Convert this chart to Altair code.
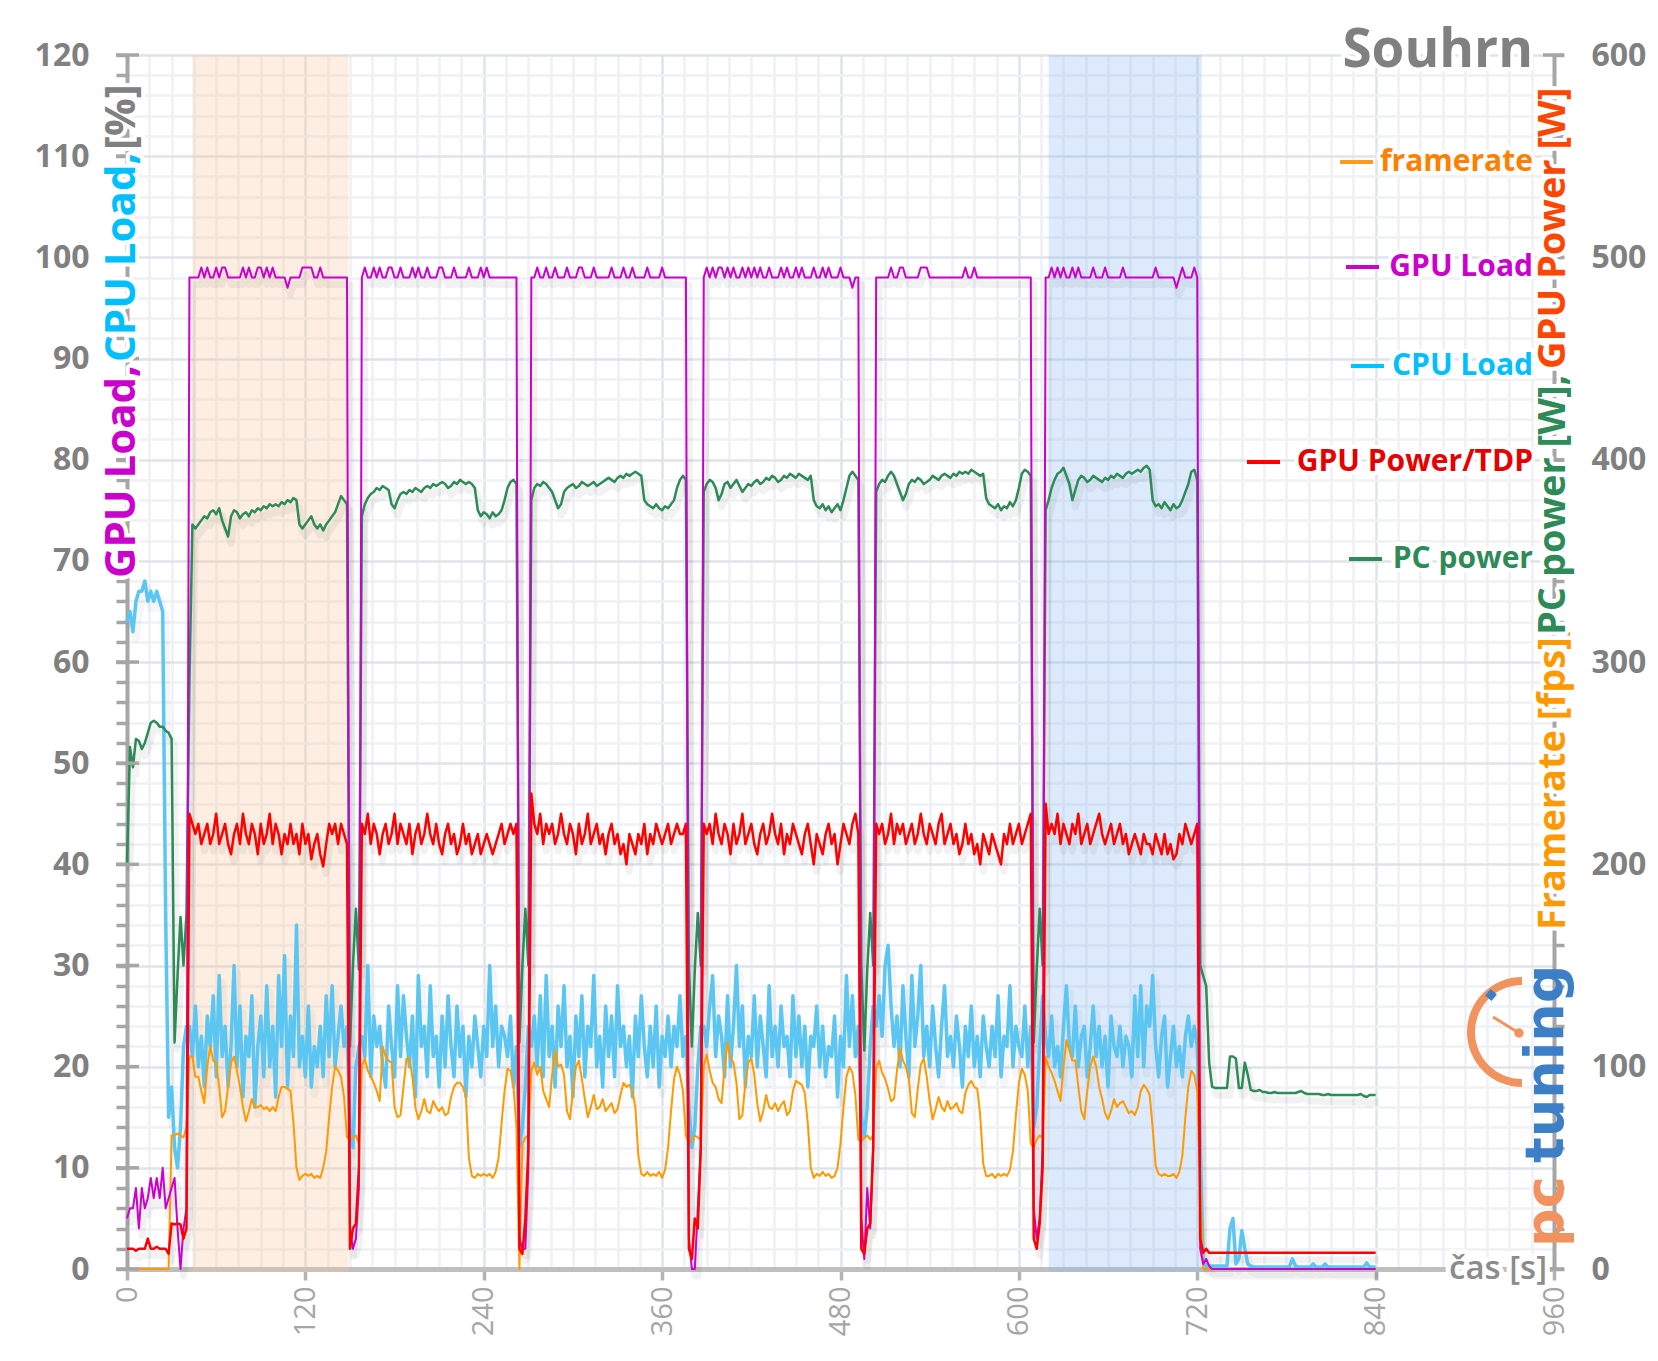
import altair as alt
import pandas as pd

# ---------------- data (sampled every 2 s) ----------------
STEP = 2

# framerate [fps] (right axis)
fps = (
    [0,0,0,0,0,0,0,0,0,0,0,0,0,0,0, 66,66,67,66,65, 70]
    + [105,105,95,95,88,82,100,110,103,102, 90,75,78,90,102,105,98,90,80,73,
       78,84,80,80,81,79,80,78,80,78, 85,90,90,89,88,72,50,44,46,47,
       46,47,45,46,45,50,58,75,90,100, 98,95,85,65]
    + [64,65,66,62]
    + [100,104,98,95,92,88,83,110,105,103, 102,80,75,76,90,104,104,95,80,74,
       78,84,78,77,83,80,78,80,76,77, 85,90,92,92,90,85,55,46,45,47,
       46,47,46,47,45,48,55,72,88,99, 98,90,70]
    + [0,62,65,66]
    + [98,102,96,100,88,84,80,96,108,100, 101,96,78,74,88,100,103,94,84,75,
       80,86,79,80,84,78,80,82,77,79, 86,92,90,91,88,80,56,47,46,48,
       46,47,46,48,45,49,60,78,94,100, 96,88,66]
    + [62,64,66,65,64]
    + [100,106,98,92,90,84,82,100,112,104, 102,92,74,76,92,102,104,96,82,73,
       78,86,80,79,82,78,81,83,76,78, 88,93,92,91,87,72,50,45,47,46,
       48,46,47,45,46,50,62,80,95,100, 97,86,64]
    + [63,65,66,64,66]
    + [99,103,97,94,89,83,84,98,109,103, 100,94,77,75,89,101,104,95,83,74,
       79,85,80,78,83,79,80,82,78,77, 87,91,93,90,89,76,52,46,46,47,
       45,47,46,47,46,49,58,76,92,99, 96,88,62]
    + [60,64,66,65]
    + [105,100,97,93,88,83,100,113,108,103, 103,90,78,74,88,100,105,100,90,84,
       77,74,78,84,80,82,83,80,77,78, 76,80,88,91,89,86,70,51,47,46,
       47,46,46,47,45,48,56,75,90,98, 96,88]
    + [40,0,0,0,0,0,0,0,0,0, 0,0,0,0,0,0,0,0,0,0, 0,0,0,0,0,0,0,0,0,0,
       0,0,0,0,0,0,0,0,0,0, 0,0,0,0,0,0,0,0,0,0, 0,0,0,0,0,0,0,0,0,0]
)

# GPU load [%] (left axis)
gpu_load = (
    [5,6,6,8,4,8,6,7,9,7, 9,7,10,6,7,8,9,4,0,4, 6]
    + [98,98,98,98,99,98,99,98,98,99, 98,99,99,98,98,98,98,98,99,98,
       99,98,98,99,99,98,99,98,99,98, 98,98,98,97,98,98,98,98,99,99,
       99,99,98,98,99,98,98,98,98,98, 98,98,98,98]
    + [4,2,3,8]
    + [98,99,98,98,99,98,99,98,98,99, 99,98,98,99,98,98,98,99,98,99,
       98,98,99,98,98,98,99,99,98,98, 98,99,98,98,98,98,99,98,98,98,
       99,98,99,98,98,98,98,98,98,98, 98,98,98]
    + [3,2,2,10]
    + [98,98,99,98,98,99,98,98,99,98, 98,98,99,98,98,98,99,99,98,98,
       98,99,98,98,98,98,98,99,98,98, 98,99,98,98,99,98,98,98,98,99,
       98,98,98,98,99,98,98,98,98,98, 98,98,98]
    + [3,0,0,6,12]
    + [98,99,98,99,98,99,99,98,99,98, 99,98,98,99,98,99,98,99,98,99,
       98,98,99,98,98,98,99,98,99,98, 98,99,98,99,98,98,98,99,98,98,
       99,98,99,98,98,98,99,98,98,98, 97,98,98]
    + [5,1,8,4,12]
    + [98,98,98,98,98,99,98,98,99,99, 98,98,98,98,98,99,99,99,98,98,
       98,98,98,98,98,98,98,98,98,98, 99,98,98,99,98,98,98,98,98,98,
       98,98,98,98,98,98,98,98,98,98, 98,98,98]
    + [6,3,5,12]
    + [98,98,99,98,99,98,99,98,98,99, 98,99,98,98,98,98,99,98,98,98,
       99,98,98,98,98,98,99,98,98,98, 98,98,98,98,98,98,98,99,98,98,
       98,98,98,98,97,98,99,98,98,98, 99,98]
    + [2,0.5,1,0.3,0,0,0,0,0,0, 0,0,0,0,0,0,0,0,0,0, 0,0,0,0,0,0,0,0,0,0,
       0,0,0,0,0,0,0,0,0,0, 0,0,0,0,0,0,0,0,0,0, 0,0,0,0,0,0,0,0,0,0]
)

# CPU load [%] (left axis)
cpu_load = (
    [64,65,63,66,67,67,68,66,67,66, 67,66,65,35,15,18,12,10,14,22, 24]
    + [24,21,26,20,23,18,25,22,27,19, 29,21,24,18,22,30,20,26,17,23,
       21,27,16,22,25,19,28,20,24,17, 29,22,31,18,25,21,34,20,23,19,
       26,18,22,20,24,19,27,21,28,20, 23,26,22,24]
    + [14,12,20,22]
    + [23,21,30,19,25,22,24,20,18,26, 22,19,28,21,27,23,20,25,17,29,
       22,24,19,28,21,23,18,25,20,27, 22,19,26,21,24,17,23,20,25,22,
       19,24,21,30,22,26,20,24,23,21, 25,18,22]
    + [12,14,18,24]
    + [22,25,20,27,19,29,21,24,18,26, 22,28,20,23,17,25,21,27,19,24,
       22,29,20,23,18,26,21,25,19,28, 22,24,20,23,17,25,21,27,22,19,
       24,20,26,18,23,21,25,20,24,22, 27,21,23]
    + [16,12,14,20,24]
    + [24,22,26,29,21,25,23,19,27,20, 24,30,22,26,18,23,21,27,20,25,
       22,19,28,21,24,20,26,22,23,19, 27,21,25,20,24,18,23,22,26,20,
       24,19,22,21,25,17,23,20,29,22, 27,21,24]
    + [15,13,16,22,26]
    + [24,27,23,30,32,26,22,25,20,28, 23,19,29,22,25,30,21,24,20,26,
       22,19,24,28,21,23,20,25,22,18, 24,21,26,20,23,19,25,22,20,24,
       21,27,19,23,22,28,20,24,22,21, 26,20,24]
    + [14,16,22,27]
    + [23,21,25,20,22,19,24,28,22,21, 26,20,23,24,19,22,26,21,24,20,
       23,18,25,22,21,24,20,23,22,19, 27,21,28,20,26,24,29,22,19,23,
       25,18,21,24,20,22,19,23,25,22, 24,22]
    + [12,1,0.3,0.3,0.3,0.3,0.3,0.3,0.3,0.3, 4,5,0.5,1,3.8,2,0.5,0.3,0.2,0.2,
       0.2,0.2,0.2,0.2,0.2,0.2,0.2,0.2,0.2,0.2, 0.2,1,0.3,0.2,0.2,0.2,0.2,0.2,0.5,0.2,
       0.2,0.2,0.5,0.2,0.2,0.2,0.2,0.2,0.2,0.2, 0.2,0.2,0.2,0.2,0.2,0.2,0.6,0.2,0.2,0.2]
)

# GPU power / TDP [%] (left axis)
gpu_power = (
    [2,2,2,1.8,2,2,2,3,2,2, 2.2,2,2,2,1.5,4.5,4.4,4.5,4.4,3, 4]
    + [45,44,43,44,42,43,44,42,43,45, 42,43,44,42,41,43,44,42,45,43,
       42,44,43,41,44,42,43,45,42,44, 43,41,43,42,44,42,43,41,44,42,
       43,40.5,42,43,41,39.8,42,44,43,44, 42,44,43,42]
    + [2,4,4.5,10]
    + [44,43,45,42,44,43,41,43,44,42, 43,45,42,44,43,42,44,41,43,44,
       42,43,45,43,42,44,42,41,43,44, 42,43,41,42,44,42,43,41,42,43,
       41,42,43,42,41,42,43,44,42,43, 44,43,44]
    + [2,1.5,5,12]
    + [47,44,43,45,42,44,43,44,42,43, 45,43,42,44,43,41,44,42,43,45,
       42,43,44,42,43,41,43,44,42,43, 41,42,40,43,42,41,43,42,44,41,
       43,42,44,43,42,43,44,42,43,44, 43,43,44]
    + [2,1,5,4,12]
    + [44,43,44,42,45,43,42,44,43,41, 44,42,43,45,42,43,44,42,41,43,
       44,42,43,45,43,42,44,41,43,42, 44,43,42,41,43,44,42,40,43,42,
       41,43,44,42,43,40,42,44,43,42, 44,45,43]
    + [2,1.5,4,4.5,12]
    + [44,43,44,42,43,45,42,44,43,44, 42,43,44,42,43,45,43,42,44,43,
       42,44,45,42,43,44,42,43,41,42, 44,42,43,41,42,40,43,42,41,43,
       42,41,40,43,42,44,42,43,44,42, 43,44,45]
    + [3,2,4.5,10]
    + [46,43,44,43,45,42,44,43,42,44, 43,45,42,43,44,42,43,44,45,43,
       42,43,44,42,43,44,42,43,41,42, 43,42,41,43,42,42,41,43,42,41,
       43,41,42,40.5,41,43,42,44,43,42, 43,44]
    + [3,1.6,2,1.6,1.6,1.6,1.6,1.6,1.6,1.6, 1.6,1.6,1.6,1.6,1.6,1.6,1.6,1.6,1.6,1.6,
       1.6,1.6,1.6,1.6,1.6,1.6,1.6,1.6,1.6,1.6, 1.6,1.6,1.6,1.6,1.6,1.6,1.6,1.6,1.6,1.6,
       1.6,1.6,1.6,1.6,1.6,1.6,1.6,1.6,1.6,1.6, 1.6,1.6,1.6,1.6,1.6,1.6,1.6,1.6,1.6,1.6]
)

# PC power [W] (right axis)
pc_power = (
    [200,258,248,262,261,257,260,265,270,271, 270,268,268,266,265,262,112,145,174,150, 175]
    + [290,368,366,368,370,372,371,374,375,373, 376,370,366,362,372,375,374,371,373,374,
       372,375,374,376,375,377,376,378,377,378, 377,379,378,380,379,381,380,368,366,368,
       370,372,368,366,368,365,368,370,372,374, 378,382,380,378]
    + [110,150,178,148]
    + [372,378,381,383,384,386,385,387,386,385, 378,376,380,383,384,383,385,384,386,385,
       384,386,387,386,388,387,388,389,388,386, 387,389,388,390,389,388,389,388,386,
       375,372,374,373,371,374,372,373,375, 380,386,389,390,388]
    + [112,150,178,150]
    + [380,386,388,387,389,388,386,384,380,376, 378,384,386,387,388,386,387,389,388,387,
       388,389,387,388,389,390,391,390,389,391, 392,391,393,392,393,394,393,392,
       380,378,377,376,378,376,375,377,376,378, 380,386,390,392,390]
    + [150,110,148,176,150]
    + [384,388,390,389,386,380,383,388,389,386, 388,390,387,384,386,388,387,389,390,388,
       389,391,390,392,391,389,390,392,391,393, 392,391,393,392,391,390,392,380,
       377,376,378,375,377,374,376,378,375,380, 386,392,394,392,390]
    + [150,108,148,176,150]
    + [384,388,390,389,392,394,392,388,384,380, 383,388,390,389,391,390,388,389,390,392,
       391,390,392,393,392,391,393,392,394,393, 394,393,395,394,393,392,393,381,
       378,377,376,378,375,377,376,379,377,380, 386,393,395,394,392]
    + [112,148,178,150]
    + [375,380,386,390,393,394,396,392,388,380, 385,390,392,391,389,390,392,391,390,389,
       391,390,392,391,393,392,391,393,394,393, 394,395,394,396,397,395,
       380,377,378,376,379,377,375,378,376,377, 380,384,388,394,395,390]
    + [150,145,140,102,90,89.5,89.5,89.5,89.5,89.5, 105,105,104,89.5,89.5,102,96,88.5,88,88,
       88.5,87.5,87.5,87,87,87.5,87,87,87,87, 87,87,87,87.5,88,87,86.5,86.5,86.5,86.5,
       86.5,86,86,86.5,86,86,86,86,86,86, 86,86,86,86,86.5,85.5,85,86,86,86]
)

# highlighted intervals [s]
band_start = [44, 620]
band_end = [149, 723]
band_color = ["#f8c89a", "#8ab9f2"]

legend_labels = ["framerate", "GPU Load", "CPU Load", "GPU Power/TDP", "PC power"]
legend_text_colors = ["#ff7f00", "#cc00cc", "#00bfff", "#e60000", "#2e8b57"]
legend_dash_colors = ["#ff9a1a", "#cc00cc", "#00c4ff", "#ff0000", "#2e8b57"]

# ---------------- layout / style ----------------
W, H = 1427, 1214
FONT = "Open Sans"
X_DOM = [0, 960]
L_DOM = [0, 120]
R_DOM = [0, 600]

x_scale = alt.Scale(domain=X_DOM, nice=False, zero=False)
l_scale = alt.Scale(domain=L_DOM, nice=False)
r_scale = alt.Scale(domain=R_DOM, nice=False)

x_axis = alt.Axis(
    values=list(range(0, 961, 15)), title=None, grid=True,
    gridColor={"condition": {"test": "datum.value % 120 === 0", "value": "#dfe3ea"}, "value": "#eff1f5"},
    gridWidth=2.5, domainColor="#bfbfbf", domainWidth=5,
    tickColor="#b3b3b3", tickWidth=3.5, tickSize=11,
    tickOpacity={"condition": {"test": "datum.value % 120 === 0", "value": 1}, "value": 0},
    labelExpr="datum.value % 120 === 0 ? datum.label : ''",
    labelAngle=270, labelFont=FONT, labelFontSize=29, labelColor="#a6a6a6",
    labelPadding=6, labelFlush=False, labelOverlap=False,
)
left_axis = alt.Axis(
    values=list(range(0, 121, 2)), orient="left", title=None, grid=True,
    gridColor={"condition": {"test": "datum.value % 10 === 0", "value": "#dfe3ea"}, "value": "#eff1f5"},
    gridWidth=2.5, domainColor="#a6a6a6", domainWidth=4,
    tickColor="#a6a6a6", tickWidth=3.5, tickSize=11,
    labelExpr="datum.value % 10 === 0 ? datum.label : ''",
    labelFont=FONT, labelFontSize=32, labelFontWeight="bold", labelColor="#808080",
    labelPadding=27, labelFlush=False, labelOverlap=False,
)
right_axis = alt.Axis(
    values=list(range(0, 601, 20)), orient="right", title=None, grid=False,
    domainColor="#a6a6a6", domainWidth=4,
    tickColor="#a6a6a6", tickWidth=3.5, tickSize=10,
    labelExpr="datum.value % 100 === 0 ? datum.label : ''",
    labelFont=FONT, labelFontSize=32, labelFontWeight="bold", labelColor="#808080",
    labelPadding=27, labelFlush=False, labelOverlap=False,
)

one = pd.DataFrame({"k": [0]})


def frame(vals):
    return pd.DataFrame({"t": [i * STEP for i in range(len(vals))], "v": vals})


def series(vals, color, width, scale, axis=None):
    return alt.Chart(frame(vals)).mark_line(color=color, strokeWidth=width, strokeJoin="round").encode(
        x=alt.X("t:Q", scale=x_scale, axis=x_axis),
        y=alt.Y("v:Q", scale=scale, axis=axis),
    )


def shadow(vals, scale, width=7, opacity=0.05):
    return alt.Chart(frame(vals)).mark_line(
        color="#000000", strokeWidth=width, opacity=opacity, strokeJoin="round",
        xOffset=3, yOffset=7).encode(
        x=alt.X("t:Q", scale=x_scale, axis=x_axis),
        y=alt.Y("v:Q", scale=scale, axis=None),
    )


def text(txt, x, y, color, size, weight="bold", angle=0, align="left", baseline="middle",
         halo=0, font=FONT):
    layers = []
    if halo:
        layers.append(alt.Chart(one).mark_text(
            text=txt, font=font, fontSize=size, fontWeight=weight, angle=angle, align=align,
            baseline=baseline, color="white", stroke="white", strokeWidth=halo, strokeJoin="round",
        ).encode(x=alt.value(x), y=alt.value(y)))
    layers.append(alt.Chart(one).mark_text(
        text=txt, font=font, fontSize=size, fontWeight=weight, angle=angle, align=align,
        baseline=baseline, color=color,
    ).encode(x=alt.value(x), y=alt.value(y)))
    return layers


bands = alt.Chart(pd.DataFrame({"t0": band_start, "t1": band_end, "c": band_color})).mark_rect(
    opacity=0.3).encode(
    x=alt.X("t0:Q", scale=x_scale, axis=x_axis), x2="t1:Q",
    y=alt.value(0), y2=alt.value(H + 3),
    color=alt.Color("c:N", scale=None),
)

shadows = [
    shadow(cpu_load, l_scale, 8, 0.035),
    shadow(pc_power, r_scale),
    shadow(gpu_load, l_scale),
    shadow(gpu_power, l_scale),
]

cpu_l = series(cpu_load, "#5cc6f2", 3.5, l_scale, left_axis)
fps_l = series(fps, "#ff9900", 2, r_scale)
pc_l = series(pc_power, "#2e8b57", 2.5, r_scale, right_axis)
gl_l = series(gpu_load, "#cc00cc", 2, l_scale)
gp_l = series(gpu_power, "#ff0000", 2.5, l_scale)

left_major = alt.Chart(pd.DataFrame({"v": list(range(0, 121, 10))})).mark_rule(
    color="#a6a6a6", strokeWidth=3.5).encode(
    y=alt.Y("v:Q", scale=l_scale, axis=None), x=alt.value(-11), x2=alt.value(12))
right_major = alt.Chart(pd.DataFrame({"v": list(range(0, 601, 100))})).mark_rule(
    color="#a6a6a6", strokeWidth=3.5).encode(
    y=alt.Y("v:Q", scale=r_scale, axis=None), x=alt.value(W - 11), x2=alt.value(W + 10))

# logo (pctuning)
logo = [
    alt.Chart(one).mark_arc(color="#f0935e").encode(
        x=alt.value(1395), y=alt.value(977), theta=alt.value(3.1416), theta2=alt.value(6.2832),
        radius=alt.value(55), radius2=alt.value(47)),
    alt.Chart(one).mark_rule(color="#f0935e", strokeWidth=3).encode(
        x=alt.value(1366), y=alt.value(962), x2=alt.value(1392), y2=alt.value(978)),
    alt.Chart(one).mark_point(filled=True, color="#f0935e", size=90, opacity=1).encode(
        x=alt.value(1392), y=alt.value(978)),
    alt.Chart(one).mark_point(filled=True, shape="square", color="#3d7fc6", size=70, opacity=1,
                              angle=40).encode(x=alt.value(1364), y=alt.value(940)),
]
logo += text("tuning", 1420, 1108, "#3d7fc6", 54, angle=270, font="DejaVu Sans")
logo += text("pc", 1420, 1192, "#f0935e", 54, angle=270, font="DejaVu Sans")

texts = []
# legend
legend_y = [107, 212, 311, 407, 504]
legend_x0 = [1213, 1219, 1224, 1120, 1222]
for lab, tc, dc, ly, lx in zip(legend_labels, legend_text_colors, legend_dash_colors, legend_y, legend_x0):
    texts.append(alt.Chart(one).mark_rule(color=dc, strokeWidth=4).encode(
        x=alt.value(lx), x2=alt.value(lx + 33), y=alt.value(ly)))
    texts += text(lab, 1406, ly, tc, 30, align="right", halo=8)

texts += text("Souhrn", 1406, 12, "#808080", 53, align="right", baseline="alphabetic", halo=8)
texts += text("čas [s]", 1420, H, "#8c8c8c", 33, weight=600, align="right", halo=10)

# left axis title (GPU Load, CPU Load, [%])
texts += text("GPU Load,", -5, 523, "#cc00cc", 42, angle=270, halo=8)
texts += text("CPU Load,", -5, 307, "#00bfff", 42, angle=270, halo=8)
texts += text("[%]", -5, 95, "#808080", 42, angle=270, halo=8)
# right axis title
texts += text("Framerate [fps],", W, 875, "#ff9900", 38, angle=270, halo=8)
texts += text("PC power [W],", W, 580, "#2e8b57", 38, angle=270, halo=8)
texts += text("GPU Power [W]", W, 314, "#ff4500", 38, angle=270, halo=8)

chart = alt.layer(
    bands, *shadows, cpu_l, fps_l, pc_l, gl_l, gp_l, left_major, right_major, *logo, *texts
).resolve_scale(y="independent").properties(
    width=W, height=H,
    autosize=alt.AutoSizeParams(type="none"),
    padding={"left": 119, "top": 47, "right": 94, "bottom": 84},
    background="white",
).configure_view(stroke=None)

chart.save("out.html", embed_options={"renderer": "svg", "actions": False})
